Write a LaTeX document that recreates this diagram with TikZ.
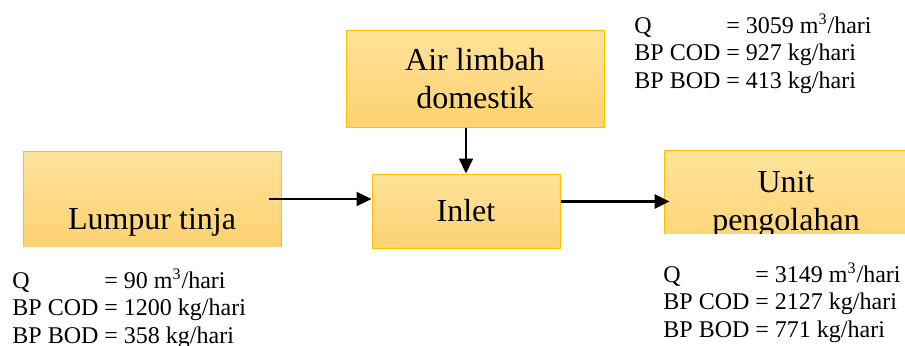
\documentclass[tikz,border=0pt]{standalone}
\usepackage{fontspec}
\setmainfont{Liberation Serif}
\usetikzlibrary{arrows.meta}
\definecolor{boxline}{RGB}{255,192,0}
\definecolor{boxtop}{RGB}{255,226,155}
\definecolor{boxbot}{RGB}{253,210,112}
\begin{document}
\begin{tikzpicture}[x=0.5pt,y=-0.5pt,>={Triangle[length=7.5pt,width=7pt]},
		box/.style={rectangle,draw=boxline,line width=0.5pt,top color=boxtop,bottom color=boxbot,
			inner sep=0pt,align=center,font=\fontsize{16}{19}\selectfont},
		lbl/.style={inner sep=0pt,font=\fontsize{16}{19}\selectfont},
		data/.style={inner sep=0pt,anchor=base west,font=\fontsize{12}{13.8}\selectfont},
		flow/.style={->,line width=1pt}]
		\useasboundingbox (0,0) rectangle (905,345);
		
		% boxes
		\node[box,minimum width=129pt,minimum height=48.5pt] (air)   at (475,78.5) {Air limbah\\domestik};
		\node[box,minimum width=94pt,minimum height=37pt]    (inlet) at (466,211)  {Inlet};
		\begin{scope}
			\clip (0,0) rectangle (905,246);
			\node[box,minimum width=129pt,minimum height=48pt] (lumpur) at (152,199) {};
		\end{scope}
		\node[lbl,anchor=base] (lumpurlbl) at (152,229) {Lumpur tinja};
		\begin{scope}
			\clip (0,0) rectangle (905,233);
			\node[box,minimum width=122pt,minimum height=54.5pt] (unit) at (786,204.5) {Unit\\pengolahan};
		\end{scope}
		
		% arrows
		\draw[flow] ([xshift=-6.5pt]lumpur.east) -- (lumpur.east -| inlet.west);
		\draw[flow] (air.south -| inlet.north) -- (inlet.north);
		\draw[flow,line width=1.5pt] ([yshift=1.5pt]inlet.east |- unit.west) -- ([xshift=3pt,yshift=1.5pt]unit.west);
		
		% loads
		\node[data] (airdata) at (634,33) {\begin{tabular}[t]{@{}l@{\ }l@{}}
				Q & = 3059 m\textsuperscript{3}/hari\\
				BP COD & = 927 kg/hari\\
				BP BOD & = 413 kg/hari
			\end{tabular}};
		\node[data] (lumpurdata) at (12,288) {\begin{tabular}[t]{@{}l@{\ }l@{}}
				Q & = 90 m\textsuperscript{3}/hari\\
				BP COD & = 1200 kg/hari\\
				BP BOD & = 358 kg/hari
			\end{tabular}};
		\node[data] (unitdata) at (663,282) {\begin{tabular}[t]{@{}l@{\ }l@{}}
				Q & = 3149 m\textsuperscript{3}/hari\\
				BP COD & = 2127 kg/hari\\
				BP BOD & = 771 kg/hari
			\end{tabular}};
\end{tikzpicture}
\end{document}
